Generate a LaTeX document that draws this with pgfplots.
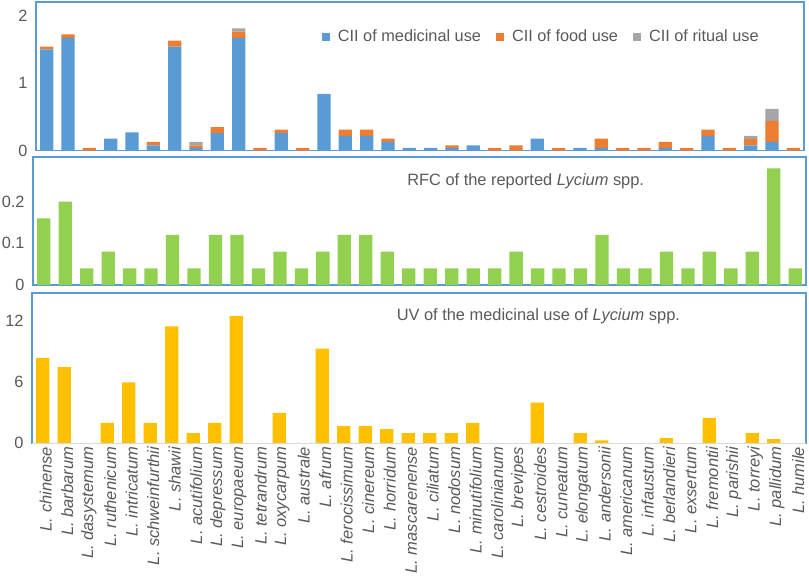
\documentclass[border=0pt]{standalone}
\usepackage{fontspec}
\setmainfont{Liberation Sans}
\usepackage{pgfplots}
\usepackage{pgfplotstable}
\pgfplotsset{compat=1.18}
\definecolor{cblue}{HTML}{5B9BD5}
\definecolor{corange}{HTML}{ED7D31}
\definecolor{cgray}{HTML}{A5A5A5}
\definecolor{cgreen}{HTML}{92D050}
\definecolor{cgold}{HTML}{FFC000}
\definecolor{cframe}{HTML}{5B9BD5}
\definecolor{ctext}{HTML}{595959}
\definecolor{cbase}{HTML}{D9D9D9}

\pgfplotstableread{
idx med food rit rfc uv
0 1.50 0.04 0 0.16 8.4
1 1.67 0.05 0 0.20 7.5
2 0 0.04 0 0.04 0
3 0.18 0 0 0.08 2
4 0.27 0 0 0.04 6
5 0.08 0.05 0 0.04 2
6 1.54 0.09 0 0.12 11.5
7 0.04 0.04 0.05 0.04 1
8 0.26 0.09 0 0.12 2
9 1.67 0.09 0.05 0.12 12.5
10 0 0.04 0 0.04 0
11 0.26 0.05 0 0.08 3
12 0 0.04 0 0.04 0
13 0.84 0 0 0.08 9.3
14 0.22 0.09 0 0.12 1.7
15 0.22 0.09 0 0.12 1.7
16 0.13 0.05 0 0.08 1.4
17 0.04 0 0 0.04 1
18 0.04 0 0 0.04 1
19 0.04 0.04 0 0.04 1
20 0.08 0 0 0.04 2
21 0 0.04 0 0.04 0
22 0 0.08 0 0.08 0
23 0.18 0 0 0.04 4
24 0 0.04 0 0.04 0
25 0.04 0 0 0.04 1
26 0.04 0.14 0 0.12 0.3
27 0 0.04 0 0.04 0
28 0 0.04 0 0.04 0
29 0.04 0.09 0 0.08 0.5
30 0 0.04 0 0.04 0
31 0.22 0.09 0 0.08 2.5
32 0 0.04 0 0.04 0
33 0.08 0.09 0.05 0.08 1
34 0.13 0.31 0.18 0.28 0.4
35 0 0.04 0 0.04 0
}\data

\pgfplotsset{
  panel/.style={
    scale only axis, anchor=north west,
    xmin=-0.5, xmax=35.5, ymin=0,
    axis line style={draw=cframe, line width=1.2pt},
    major tick length=0pt,
    xtick={0,...,35}, xticklabels={},
    tick label style={font=\fontsize{16.3}{18}\selectfont, text=ctext},
    yticklabel style={xshift=-5pt},
    /pgf/number format/assume math mode=true,
    /pgf/number format/fixed,
    bar width=13.3pt,
    clip=false,
  }
}

\begin{document}
\begin{tikzpicture}
\useasboundingbox (0pt,0pt) rectangle (809pt,-581pt);

% Top panel: CII
\begin{axis}[panel, at={(36pt,-2pt)}, width=768pt, height=148.7pt,
  ymax=2.2, ytick={0,1,2}, ybar stacked,
  legend columns=3,
  legend style={at={(rel axis cs:0.372,0.767)}, anchor=west, draw=none, fill=none,
    inner sep=0pt, font=\fontsize{16.3}{18}\selectfont, text=ctext,
    /tikz/every even column/.append style={column sep=13pt},
    nodes={inner sep=2pt}},
  legend image code/.code={\fill[#1] (0pt,-4pt) rectangle (8pt,4pt); \path (0pt,0pt) -- (14pt,0pt);},
]
\addplot[fill=cblue, draw=none] table[x=idx, y=med] {\data};
\addplot[fill=corange, draw=none] table[x=idx, y=food] {\data};
\addplot[fill=cgray, draw=none] table[x=idx, y=rit] {\data};
\legend{CII of medicinal use, CII of food use, CII of ritual use}
\end{axis}

% Middle panel: RFC
\begin{axis}[panel, at={(33pt,-157pt)}, width=773pt, height=128pt,
  ymax=0.307, ytick={0,0.1,0.2}, ybar]
\addplot[fill=cgreen, draw=none] table[x=idx, y=rfc] {\data};
\node[anchor=west, text=ctext, font=\fontsize{16.4}{18}\selectfont, inner sep=0pt]
  at (rel axis cs:0.484,0.8125) {RFC of the reported \textit{Lycium} spp.};
\end{axis}

% Bottom panel: UV
\begin{axis}[panel, at={(32pt,-293pt)}, width=774pt, height=150.3pt,
  ymax=14.78, ytick={0,6,12}, ybar,
  xticklabels={L. chinense, L. barbarum, L. dasystemum, L. ruthenicum, L. intricatum,
    L. schweinfurthii, L. shawii, L. acutifolium, L. depressum, L. europaeum,
    L. tetrandrum, L. oxycarpum, L. australe, L. afrum, L. ferocissimum,
    L. cinereum, L. horridum, L. mascarenense, L. ciliatum, L. nodosum,
    L. minutifolium, L. carolinianum, L. brevipes, L. cestroides, L. cuneatum,
    L. elongatum, L. andersonii, L. americanum, L. infaustum, L. berlandieri,
    L. exsertum, L. fremontii, L. parishii, L. torreyi, L. pallidum, L. humile},
  xticklabel style={rotate=90, anchor=east, font=\fontsize{16.5}{18}\selectfont\itshape, yshift=-3pt},
]
\addplot[fill=cgold, draw=none] table[x=idx, y=uv] {\data};
\draw[cbase, line width=1.5pt] (rel axis cs:0,0) -- (rel axis cs:1,0);
\node[anchor=west, text=ctext, font=\fontsize{16.4}{18}\selectfont, inner sep=0pt]
  at (rel axis cs:0.471,0.847) {UV of the medicinal use of \textit{Lycium} spp.};
\end{axis}
\end{tikzpicture}
\end{document}
